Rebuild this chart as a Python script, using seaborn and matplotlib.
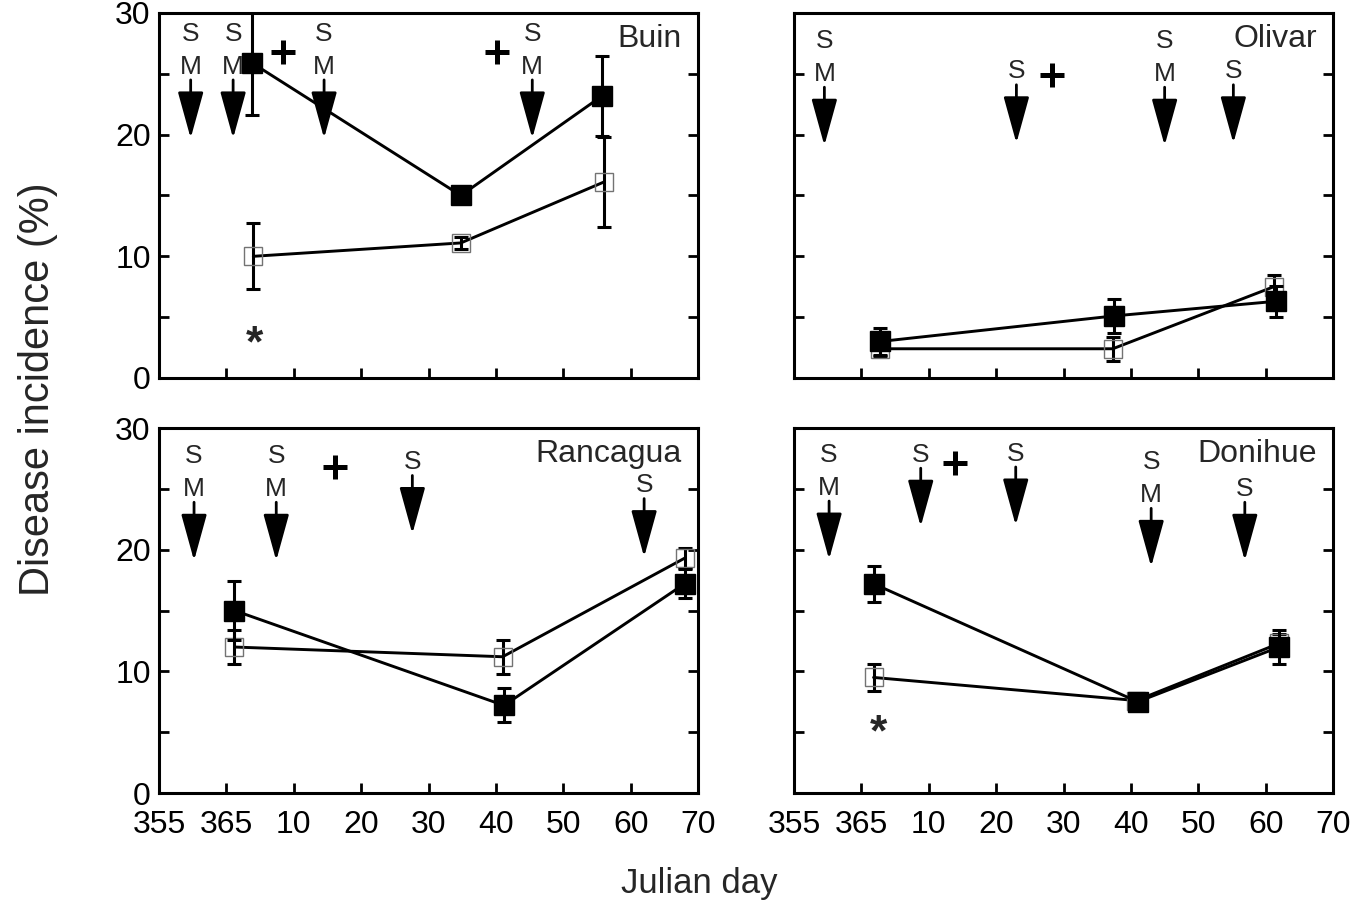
import matplotlib
matplotlib.use('Agg')
import matplotlib.pyplot as plt
import pandas as pd
import seaborn as sns

# x is day counted from 31 Dec (365 -> 0, 355 -> -10)
xtick_days = [-10, 0, 10, 20, 30, 40, 50, 60, 70]
xtick_labels = ['355', '365', '10', '20', '30', '40', '50', '60', '70']
ytick_vals = [0, 5, 10, 15, 20, 25, 30]
ytick_labels = ['0', '', '10', '', '20', '', '30']

# Buin
buin_days_closed = [3.8, 34.8, 55.8]
buin_closed = [25.9, 15.0, 23.2]
buin_closed_err = [4.3, 0.3, 3.3]
buin_days_open = [4.0, 34.8, 56.0]
buin_open = [10.0, 11.1, 16.1]
buin_open_err = [2.7, 0.5, 3.7]
buin_spray_days = [-5.3, 1.0, 14.5, 45.4]
buin_spray_kind = ['SM', 'SM', 'SM', 'SM']
buin_spray_top = [28.3, 28.3, 28.3, 28.3]
buin_plus_days = [8.4, 40.1]
buin_plus_y = [26.8, 26.8]
buin_star_days = [4.2]
buin_star_y = [3.9]

# Olivar
olivar_days_closed = [2.8, 37.5, 61.5]
olivar_closed = [3.0, 5.1, 6.3]
olivar_closed_err = [1.1, 1.4, 1.3]
olivar_days_open = [2.8, 37.3, 61.2]
olivar_open = [2.4, 2.4, 7.5]
olivar_open_err = [0.6, 1.0, 1.0]
olivar_spray_days = [-5.5, 23.0, 45.0, 55.2]
olivar_spray_kind = ['SM', 'S', 'SM', 'S']
olivar_spray_top = [27.7, 25.2, 27.7, 25.2]
olivar_plus_days = [28.3]
olivar_plus_y = [24.9]
olivar_star_days = []
olivar_star_y = []

# Rancagua
rancagua_days_closed = [1.2, 41.2, 68.0]
rancagua_closed = [15.0, 7.2, 17.2]
rancagua_closed_err = [2.4, 1.4, 1.2]
rancagua_days_open = [1.2, 41.0, 68.0]
rancagua_open = [12.0, 11.2, 19.3]
rancagua_open_err = [1.4, 1.4, 0.8]
rancagua_spray_days = [-4.8, 7.4, 27.6, 62.0]
rancagua_spray_kind = ['SM', 'SM', 'S', 'S']
rancagua_spray_top = [27.7, 27.7, 27.2, 25.3]
rancagua_plus_days = [16.1]
rancagua_plus_y = [26.8]
rancagua_star_days = []
rancagua_star_y = []

# Donihue
donihue_days_closed = [1.8, 41.0, 62.0]
donihue_closed = [17.2, 7.5, 12.0]
donihue_closed_err = [1.5, 0.6, 1.4]
donihue_days_open = [1.8, 40.8, 62.0]
donihue_open = [9.5, 7.6, 12.3]
donihue_open_err = [1.1, 0.5, 0.8]
donihue_spray_days = [-4.8, 8.8, 22.9, 43.0, 56.9]
donihue_spray_kind = ['SM', 'S', 'S', 'SM', 'S']
donihue_spray_top = [27.8, 27.8, 27.9, 27.2, 25.0]
donihue_plus_days = [13.9]
donihue_plus_y = [27.1]
donihue_star_days = [2.5]
donihue_star_y = [6.0]

sns.set_theme(style='ticks')
plt.rcParams['font.family'] = ['Liberation Sans', 'DejaVu Sans']

fig = plt.figure(figsize=(13.66, 9.09), dpi=100)

col_left = [0.1164, 0.5813]
row_bottom = [0.5842, 0.1276]
w, h = 0.3946, 0.4015


def panel(ax, name, dc, yc, ec, do, yo, eo, sdays, skind, stop, pdays, py, stdays, sty, bottom_row, left_col):
    df = pd.DataFrame({
        'day': do + dc,
        'incidence': yo + yc,
        'err': eo + ec,
        'group': ['open'] * len(do) + ['closed'] * len(dc),
    })
    op = df[df.group == 'open']
    cl = df[df.group == 'closed']

    ax.errorbar(op.day, op.incidence, yerr=op.err, fmt='none', ecolor='black',
                elinewidth=2.2, capsize=5, capthick=2.2, zorder=2)
    sns.lineplot(data=op, x='day', y='incidence', color='black', lw=2.1,
                 marker='s', ms=13, markerfacecolor='none', markeredgecolor='0.45',
                 markeredgewidth=1, errorbar=None, ax=ax, zorder=3)
    ax.errorbar(cl.day, cl.incidence, yerr=cl.err, fmt='none', ecolor='black',
                elinewidth=2.2, capsize=5, capthick=2.2, zorder=4)
    sns.lineplot(data=cl, x='day', y='incidence', color='black', lw=2.1,
                 marker='s', ms=15, markerfacecolor='black', markeredgecolor='black',
                 markeredgewidth=1, errorbar=None, ax=ax, zorder=5)

    # spray arrows with S / M letters above
    for x, kind, top in zip(sdays, skind, stop):
        for i, ch in enumerate(kind):
            ax.text(x, top - 2.7 * i, ch, ha='center', va='center', fontsize=19)
        shaft = top - 2.7 * (len(kind) - 1) - 1.1
        ax.annotate('', xy=(x, shaft - 4.8), xytext=(x, shaft),
                    arrowprops=dict(arrowstyle='-|>,head_length=2.9,head_width=0.8',
                                    color='black', lw=2, shrinkA=0, shrinkB=0,
                                    mutation_scale=10))

    ax.plot(pdays, py, ls='none', marker='+', ms=17, mew=3.6, color='black')
    for x, y in zip(stdays, sty):
        ax.annotate('*', xy=(x, y), xytext=(0, -0.58 * 32), textcoords='offset points',
                    ha='center', va='baseline', fontsize=32, fontweight='bold')

    ax.text(0.97, 0.93, name, transform=ax.transAxes, ha='right', va='center', fontsize=23)

    ax.set_xlim(-10, 70)
    ax.set_ylim(0, 30)
    ax.set_xticks(xtick_days)
    ax.set_yticks(ytick_vals)
    ax.set_xticklabels(xtick_labels if bottom_row else [])
    ax.set_yticklabels(ytick_labels if left_col else [])
    ax.set_xlabel('')
    ax.set_ylabel('')
    ax.tick_params(axis='both', direction='in', length=7, width=2, labelsize=23,
                   colors='black')
    ax.tick_params(axis='x', pad=12)
    ax.tick_params(axis='y', right=True, pad=6)
    for s in ax.spines.values():
        s.set_visible(True)
        s.set_linewidth(2.2)
        s.set_color('black')
    ax.set_facecolor('white')


ax1 = fig.add_axes([col_left[0], row_bottom[0], w, h])
panel(ax1, 'Buin', buin_days_closed, buin_closed, buin_closed_err,
      buin_days_open, buin_open, buin_open_err,
      buin_spray_days, buin_spray_kind, buin_spray_top,
      buin_plus_days, buin_plus_y, buin_star_days, buin_star_y, False, True)

ax2 = fig.add_axes([col_left[1], row_bottom[0], w, h])
panel(ax2, 'Olivar', olivar_days_closed, olivar_closed, olivar_closed_err,
      olivar_days_open, olivar_open, olivar_open_err,
      olivar_spray_days, olivar_spray_kind, olivar_spray_top,
      olivar_plus_days, olivar_plus_y, olivar_star_days, olivar_star_y, False, False)

ax3 = fig.add_axes([col_left[0], row_bottom[1], w, h])
panel(ax3, 'Rancagua', rancagua_days_closed, rancagua_closed, rancagua_closed_err,
      rancagua_days_open, rancagua_open, rancagua_open_err,
      rancagua_spray_days, rancagua_spray_kind, rancagua_spray_top,
      rancagua_plus_days, rancagua_plus_y, rancagua_star_days, rancagua_star_y, True, True)

ax4 = fig.add_axes([col_left[1], row_bottom[1], w, h])
panel(ax4, 'Donihue', donihue_days_closed, donihue_closed, donihue_closed_err,
      donihue_days_open, donihue_open, donihue_open_err,
      donihue_spray_days, donihue_spray_kind, donihue_spray_top,
      donihue_plus_days, donihue_plus_y, donihue_star_days, donihue_star_y, True, False)

fig.text(0.028, 0.572, 'Disease incidence (%)', rotation=90, fontsize=30,
         ha='center', va='center')
fig.text(0.512, 0.028, 'Julian day', fontsize=25, ha='center', va='center')

fig.savefig('out.png', dpi=100, facecolor='white')
